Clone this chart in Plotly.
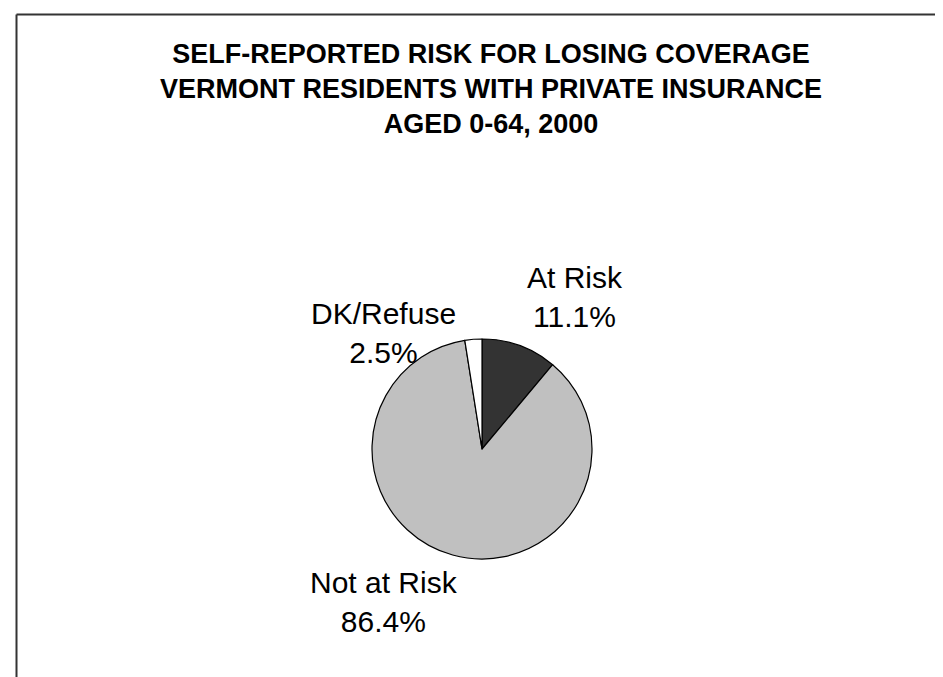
import plotly.graph_objects as go

W, H = 943, 677

title_lines = ["SELF-REPORTED RISK FOR LOSING COVERAGE",
               "VERMONT RESIDENTS WITH PRIVATE INSURANCE",
               "AGED 0-64, 2000"]
categories = ["At Risk", "Not at Risk", "DK/Refuse"]
percent_values = [11.1, 86.4, 2.5]
slice_colors = ["#333333", "#C0C0C0", "#FFFFFF"]

# label anchor positions in pixels (x center, y center)
label_pos = {"At Risk": (567, 289), "Not at Risk": (376, 594), "DK/Refuse": (375, 325)}

def px(x, y):
    return x / W, 1 - y / H

fig = go.Figure()
fig.add_trace(go.Pie(
    labels=categories,
    values=percent_values,
    sort=False,
    direction="clockwise",
    rotation=0,
    marker=dict(colors=slice_colors, line=dict(color="#000000", width=1.2)),
    textinfo="none",
    hoverinfo="label+percent",
    showlegend=False,
    domain=dict(x=[364 / W, 584 / W], y=[1 - 551 / H, 1 - 331 / H]),
))

annotations = []
tx, ty = px(483, 81)
annotations.append(dict(
    text="<br>".join(title_lines), x=tx, y=ty, xref="paper", yref="paper",
    xanchor="center", yanchor="middle", showarrow=False, align="center",
    font=dict(family="Liberation Sans, Arial, sans-serif", size=27, color="#000000"),
))
annotations[-1]["text"] = "<b>" + "<br>".join(title_lines) + "</b>"

for cat, val in zip(categories, percent_values):
    x, y = px(*label_pos[cat])
    annotations.append(dict(
        text=f"{cat}<br>{val:.1f}%", x=x, y=y, xref="paper", yref="paper",
        xanchor="center", yanchor="middle", showarrow=False, align="center",
        font=dict(family="Liberation Sans, Arial, sans-serif", size=30, color="#000000"),
    ))

x0, y0 = px(8.5, 6.5)
shapes = [
    dict(type="line", xref="paper", yref="paper", x0=x0, y0=y0, x1=1.0, y1=y0,
         line=dict(color="#333333", width=2)),
    dict(type="line", xref="paper", yref="paper", x0=x0, y0=y0, x1=x0, y1=0.0,
         line=dict(color="#333333", width=2)),
]

fig.update_layout(
    width=W, height=H,
    margin=dict(l=0, r=0, t=0, b=0),
    paper_bgcolor="#FFFFFF", plot_bgcolor="#FFFFFF",
    annotations=annotations, shapes=shapes,
    showlegend=False,
)

fig.write_html("out.html")
